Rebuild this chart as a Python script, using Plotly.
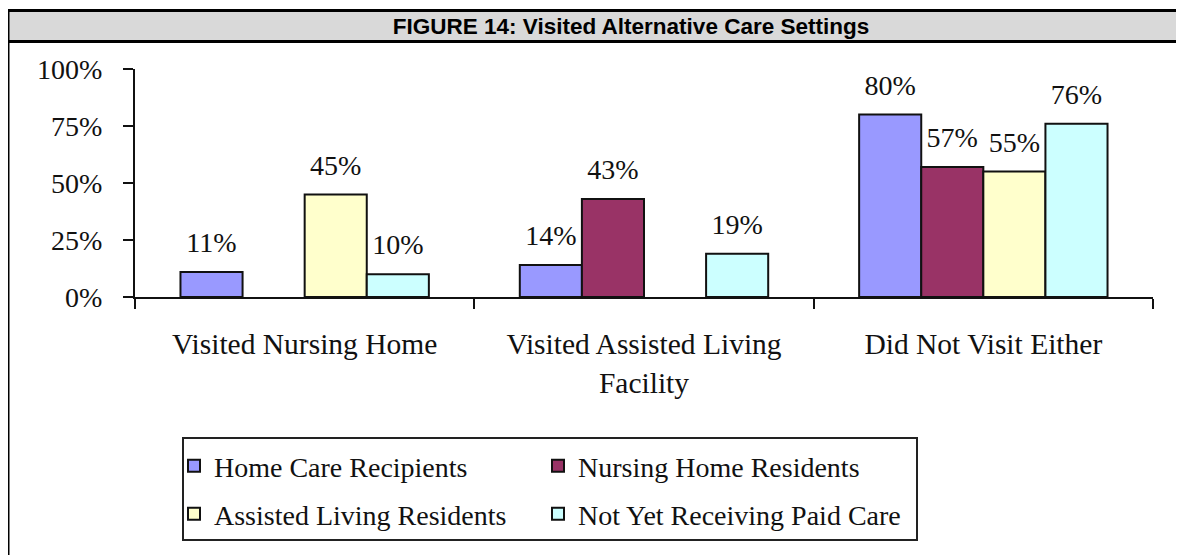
import plotly.graph_objects as go

# ---- data ----
categories = ["Visited Nursing Home", "Visited Assisted Living<br>Facility", "Did Not Visit Either"]
series_names = ["Home Care Recipients", "Nursing Home Residents",
                "Assisted Living Residents", "Not Yet Receiving Paid Care"]
home_care = [11, 14, 80]
nursing_home = [None, 43, 57]
assisted_living = [45, None, 55]
not_yet_paid = [10, 19, 76]
series_values = [home_care, nursing_home, assisted_living, not_yet_paid]
y_tick_values = [0, 25, 50, 75, 100]
y_tick_labels = [f"{v}%" for v in y_tick_values]
title_text = "FIGURE 14: Visited Alternative Care Settings"

# ---- styling ----
colors = ["#9999ff", "#993366", "#ffffcc", "#ccffff"]
legend_ids = ["legend", "legend", "legend2", "legend2"]
legend_widths = [319, 335, 319, 335]
SERIF = "Liberation Serif, Times New Roman, serif"
SANS = "Liberation Sans, Arial, sans-serif"
INK = "#111111"

# the page body adds an 8px margin: positions below are page pixels
OFF = 8
W, H = 1184 - OFF, 555 - OFF
PLOT_L, PLOT_R, PLOT_T, PLOT_B = 135, 1153, 69, 297
ML, MR = PLOT_L - OFF, W - (PLOT_R - OFF)
MT, MB = PLOT_T - OFF, H - (PLOT_B - OFF)
PW, PH = W - ML - MR, H - MT - MB


def px_x(px):
    return (px - OFF - ML) / PW


def px_y(py):
    return (H - MB - (py - OFF)) / PH


fig = go.Figure()

for name, vals, col, lg, lw in zip(series_names, series_values, colors,
                                    legend_ids, legend_widths):
    fig.add_trace(go.Bar(
        x=categories, y=vals, name=name, legend=lg, legendwidth=lw,
        marker=dict(color=col, line=dict(color=INK, width=2)),
        hoverinfo="skip",
    ))

for name, vals in zip(series_names, series_values):
    fig.add_trace(go.Scatter(
        x=categories, y=vals, mode="markers+text", orientation="v",
        text=[f"{v}%" if v is not None else "" for v in vals],
        textposition="top center",
        textfont=dict(family=SERIF, size=28, color=INK),
        marker=dict(size=19, color="rgba(0,0,0,0)"),
        showlegend=False, cliponaxis=False, hoverinfo="skip",
    ))

shapes = [
    # title bar fill
    dict(type="rect", xref="paper", yref="paper",
         x0=px_x(0), x1=px_x(1200), y0=px_y(10), y1=px_y(41),
         fillcolor="#d9d9d9", line=dict(width=0), layer="below"),
    # top border
    dict(type="line", xref="paper", yref="paper",
         x0=px_x(6), x1=px_x(1200), y0=px_y(10.5), y1=px_y(10.5),
         line=dict(color="#000", width=3)),
    # title bar bottom line
    dict(type="line", xref="paper", yref="paper",
         x0=px_x(6), x1=px_x(1200), y0=px_y(41.5), y1=px_y(41.5),
         line=dict(color="#000", width=3)),
    # left border
    dict(type="line", xref="paper", yref="paper",
         x0=px_x(8), x1=px_x(8), y0=px_y(9), y1=px_y(570),
         line=dict(color="#000", width=3)),
    # legend frame
    dict(type="rect", xref="paper", yref="paper",
         x0=px_x(183), x1=px_x(917), y0=px_y(438), y1=px_y(540),
         line=dict(color="#222", width=2), fillcolor="rgba(0,0,0,0)"),
]

legend_common = dict(orientation="h", xanchor="left", yanchor="top",
                     font=dict(family=SERIF, size=28, color=INK),
                     bgcolor="rgba(0,0,0,0)", borderwidth=0)

fig.update_layout(
    width=W, height=H, autosize=False,
    margin=dict(l=ML, r=MR, t=MT, b=MB, pad=0),
    paper_bgcolor="white", plot_bgcolor="white",
    barmode="group", bargap=0.268, bargroupgap=0,
    scattermode="group", scattergap=0.268,
    title=dict(text=title_text, xref="container", yref="container",
               x=(631 - OFF) / W, xanchor="center",
               y=1 - (26 - OFF) / H, yanchor="middle",
               font=dict(family=SANS, size=22.5, color="#000", weight=700)),
    legend=dict(x=px_x(174), y=px_y(441), **legend_common),
    legend2=dict(x=px_x(174), y=px_y(489), **legend_common),
    shapes=shapes,
    showlegend=True,
)

fig.update_xaxes(
    type="category", tickson="boundaries", ticks="outside", ticklen=10,
    tickwidth=2, tickcolor=INK, showline=True, linecolor=INK, linewidth=2,
    showgrid=False, zeroline=False, ticklabelstandoff=20,
    tickfont=dict(family=SERIF, size=29.5, color=INK),
)
fig.update_yaxes(
    range=[0, 100], tickvals=y_tick_values, ticktext=y_tick_labels,
    ticks="outside", ticklen=10, tickwidth=2, tickcolor=INK,
    showline=True, linecolor=INK, linewidth=2, showgrid=False,
    zeroline=False, ticklabelstandoff=15,
    tickfont=dict(family=SERIF, size=28, color=INK),
)

fig.write_html("out.html")
